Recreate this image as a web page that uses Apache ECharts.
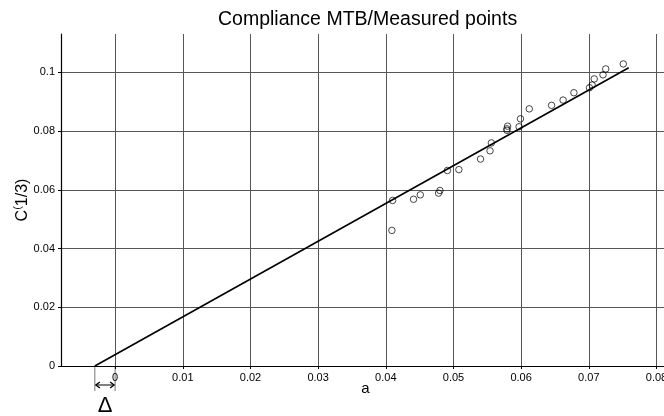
<!DOCTYPE html>
<html>
<head>
<meta charset="utf-8">
<script src="https://cdn.jsdelivr.net/npm/echarts@6/dist/echarts.min.js"></script>
<style>
  html, body { margin: 0; padding: 0; background: #fff; }
  #main { width: 664px; height: 416px; }
</style>
</head>
<body>
<div id="main"></div>
<script>
// measured points (a, C^(1/3))
const measuredA = [
  0.0409, 0.0410, 0.0441, 0.0451, 0.0478, 0.0480, 0.0491, 0.0508, 0.0540,
  0.0554, 0.0556, 0.0579, 0.0579, 0.0580, 0.0597, 0.0599, 0.0612, 0.0645,
  0.0662, 0.0678, 0.0701, 0.0705, 0.0708, 0.0721, 0.0725, 0.0751
];
const measuredC = [
  0.0462, 0.0564, 0.0568, 0.0583, 0.0589, 0.0598, 0.0666, 0.0669, 0.0705,
  0.0733, 0.0760, 0.0803, 0.0808, 0.0817, 0.0815, 0.0842, 0.0876, 0.0888,
  0.0906, 0.0931, 0.0948, 0.0957, 0.0978, 0.0992, 0.1012, 0.1029
];
// fitted line end points
const fitA = [-0.003, 0.0759];
const fitC = [0, 0.1016];
const delta = 0.003;

const titleText = 'Compliance MTB/Measured points';
const font = "'Liberation Sans', Arial, sans-serif";

const points = measuredA.map((a, i) => [a, measuredC[i]]);
const fitLine = fitA.map((a, i) => [a, fitC[i]]);

const fmt = v => String(+v.toFixed(4));

let chart = echarts.init(document.getElementById('main'));

chart.setOption({
  animation: false,
  backgroundColor: '#fff',
  textStyle: { fontFamily: font },
  title: {
    text: titleText,
    left: 213,
    top: 5,
    textStyle: { fontSize: 19.5, fontWeight: 'normal', color: '#000', fontFamily: font }
  },
  // plot runs past the right edge of the picture, as in the source
  grid: { left: 61, top: 34, bottom: 50, width: 609, containLabel: false, outerBoundsMode: 'none' },
  xAxis: {
    type: 'value',
    min: -0.008,
    max: 0.082,
    splitNumber: 9,
    name: 'a',
    nameLocation: 'middle',
    nameGap: 15,
    nameMoveOverlap: false,
    nameTextStyle: { fontSize: 15, color: '#000', fontFamily: font },
    axisLine: { onZero: false, lineStyle: { color: '#000', width: 1.2 } },
    axisTick: { show: true, length: 3, lineStyle: { color: '#000' } },
    axisLabel: {
      color: '#000', fontSize: 11, margin: 6,
      showMinLabel: false, showMaxLabel: false,
      formatter: fmt
    },
    splitLine: { show: true, showMinLine: false, showMaxLine: false, lineStyle: { color: '#555', width: 1 } }
  },
  yAxis: {
    type: 'value',
    min: 0,
    max: 0.1131,
    splitNumber: 6,
    name: '{n|C}{s|(}{n|1/3)}',
    nameLocation: 'middle',
    nameGap: 27,
    nameMoveOverlap: false,
    nameTextStyle: {
      color: '#000', fontFamily: font,
      rich: {
        n: { fontSize: 16, lineHeight: 22, color: '#000', fontFamily: font },
        s: { fontSize: 11, lineHeight: 11, color: '#000', fontFamily: font, verticalAlign: 'top' }
      }
    },
    axisLine: { show: true, onZero: false, lineStyle: { color: '#000', width: 1.2 } },
    axisTick: { show: true, length: 3, lineStyle: { color: '#000' } },
    axisLabel: {
      color: '#000', fontSize: 11, margin: 6,
      showMaxLabel: false,
      formatter: fmt
    },
    splitLine: { show: true, showMinLine: false, showMaxLine: false, lineStyle: { color: '#555', width: 1 } }
  },
  series: [
    {
      name: 'fit',
      type: 'line',
      data: fitLine,
      symbol: 'none',
      lineStyle: { color: '#000', width: 1.6 },
      z: 3
    },
    {
      name: 'measured',
      type: 'scatter',
      data: points,
      symbol: 'circle',
      symbolSize: 6.5,
      itemStyle: { color: 'rgba(0,0,0,0)', borderColor: '#000', borderWidth: 0.9 },
      z: 4
    }
  ]
});

// delta annotation under the x axis, placed through the axis scale
function addDelta(){
  const p0 = chart.convertToPixel({gridIndex: 0}, [fitA[0], 0]);
  const p1 = chart.convertToPixel({gridIndex: 0}, [fitA[0] + delta, 0]);
  const y0 = p0[1];
  const ya = y0 + 19;
  const lineStyle = { stroke: '#000', lineWidth: 1 };
  chart.setOption({
    graphic: [
      { type: 'line', shape: { x1: p0[0], y1: y0, x2: p0[0], y2: y0 + 25 }, style: { stroke: '#777', lineWidth: 1 } },
      { type: 'line', shape: { x1: p1[0], y1: y0, x2: p1[0], y2: y0 + 25 }, style: { stroke: '#777', lineWidth: 1 } },
      { type: 'line', shape: { x1: p0[0] + 1, y1: ya, x2: p1[0] - 1, y2: ya }, style: lineStyle },
      { type: 'polyline', shape: { points: [[p0[0] + 5, ya - 3], [p0[0] + 1, ya], [p0[0] + 5, ya + 3]] }, style: { stroke: '#000', lineWidth: 1.3, fill: null } },
      { type: 'polyline', shape: { points: [[p1[0] - 5, ya - 3], [p1[0] - 1, ya], [p1[0] - 5, ya + 3]] }, style: { stroke: '#000', lineWidth: 1.3, fill: null } },
      {
        type: 'text',
        x: (p0[0] + p1[0]) / 2,
        y: y0 + 40,
        style: { text: 'Δ', fill: '#000', font: '22px ' + font, align: 'center', verticalAlign: 'middle' }
      }
    ]
  });
}
addDelta();
</script>
</body>
</html>
